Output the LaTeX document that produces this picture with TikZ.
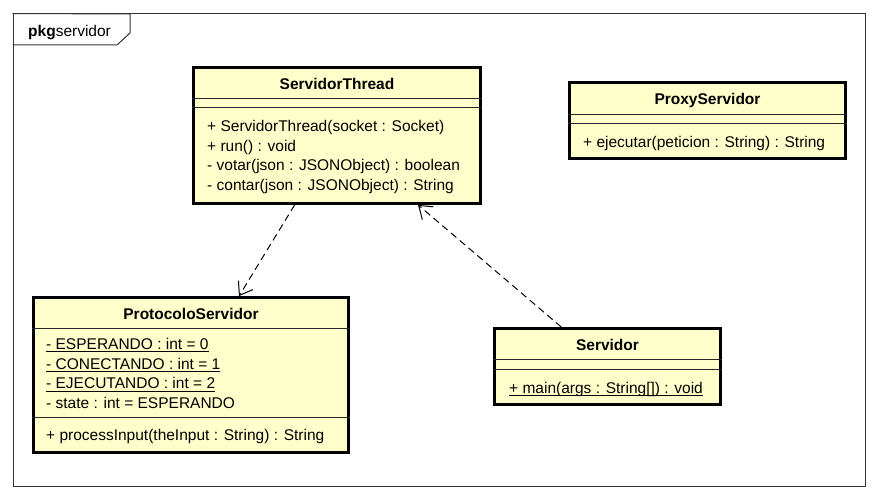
\documentclass[tikz,border=0pt]{standalone}
\usepackage{fontspec}
\setmainfont{Liberation Sans}
\usetikzlibrary{arrows.meta}
\definecolor{classfill}{RGB}{255,255,204}
\newcommand{\statictxt}[1]{\setbox0\hbox{#1}\rlap{\rule[-3pt]{\wd0}{0.9pt}}\box0}

\begin{document}
\begin{tikzpicture}[x=1pt, y=-1pt,
    umlclass/.style={draw=black, line width=2.8pt, fill=classfill, inner sep=0pt},
    cname/.style={font=\fontsize{15.5}{18}\selectfont\bfseries, anchor=base, inner sep=0pt},
    member/.style={font=\fontsize{15.5}{18}\selectfont, anchor=base west, inner sep=0pt},
    sepline/.style={line width=1pt, black!85},
    dep/.style={line width=1pt, dash pattern=on 7pt off 4.5pt, -{Straight Barb[length=12pt, width=17pt]}}
]
\useasboundingbox (0,0) rectangle (878,500);

% package frame
\node[draw=black!80, line width=1pt, minimum width=852pt, minimum height=472pt, inner sep=0pt] (pkg) at (439,250) {};
\draw[black!80, line width=1pt] (pkg.north west) -- (130,14) -- (130,33) -- (117,45) -- (pkg.west |- 0,45);
\node[anchor=base west, inner sep=0pt, font=\fontsize{15.5}{18}\selectfont] (pkgname) at (28,37) {\textbf{pkg}servidor};

% classes
\node[umlclass, minimum width=287pt, minimum height=136pt] (thread) at (337,135.5) {};
\node[umlclass, minimum width=276pt, minimum height=76pt] (proxy) at (707.5,120.5) {};
\node[umlclass, minimum width=315pt, minimum height=155pt] (proto) at (191,375) {};
\node[umlclass, minimum width=226pt, minimum height=76pt] (main) at (607.5,366.5) {};

% ServidorThread
\node[cname] (threadname) at (337,90) {ServidorThread};
\draw[sepline] (thread.west |- 0,99) -- (thread.east |- 0,99);
\draw[sepline] (thread.west |- 0,108) -- (thread.east |- 0,108);
\node[member] (th1) at (207,131.5) {+ ServidorThread(socket : Socket)};
\node[member] (th2) at (207,151.2) {+ run() : void};
\node[member] (th3) at (207,170.9) {- votar(json : JSONObject) : boolean};
\node[member] (th4) at (207,190.6) {- contar(json : JSONObject) : String};

% ProxyServidor
\node[cname] (proxyname) at (707.5,105) {ProxyServidor};
\draw[sepline] (proxy.west |- 0,115) -- (proxy.east |- 0,115);
\draw[sepline] (proxy.west |- 0,124) -- (proxy.east |- 0,124);
\node[member] (px1) at (583,147) {+ ejecutar(peticion : String) : String};

% ProtocoloServidor
\node[cname] (protoname) at (191,319.5) {ProtocoloServidor};
\draw[sepline] (proto.west |- 0,328) -- (proto.east |- 0,328);
\node[member] (pr1) at (46,349.3) {\statictxt{- ESPERANDO : int = 0}};
\node[member] (pr2) at (46,369) {\statictxt{- CONECTANDO : int = 1}};
\node[member] (pr3) at (46,388.7) {\statictxt{- EJECUTANDO : int = 2}};
\node[member] (pr4) at (46,408.4) {- state : int = ESPERANDO};
\draw[sepline] (proto.west |- 0,417.5) -- (proto.east |- 0,417.5);
\node[member] (pr5) at (46,440.5) {+ processInput(theInput : String) : String};

% Servidor
\node[cname] (mainname) at (607.5,350) {Servidor};
\draw[sepline] (main.west |- 0,359.5) -- (main.east |- 0,359.5);
\draw[sepline] (main.west |- 0,369.5) -- (main.east |- 0,369.5);
\node[member] (mn1) at (509,393.3) {\statictxt{+ main(args : String[]) : void}};

% dependencies
\draw[dep] (thread) -- (proto);
\draw[dep] (main) -- (thread);
\end{tikzpicture}
\end{document}
